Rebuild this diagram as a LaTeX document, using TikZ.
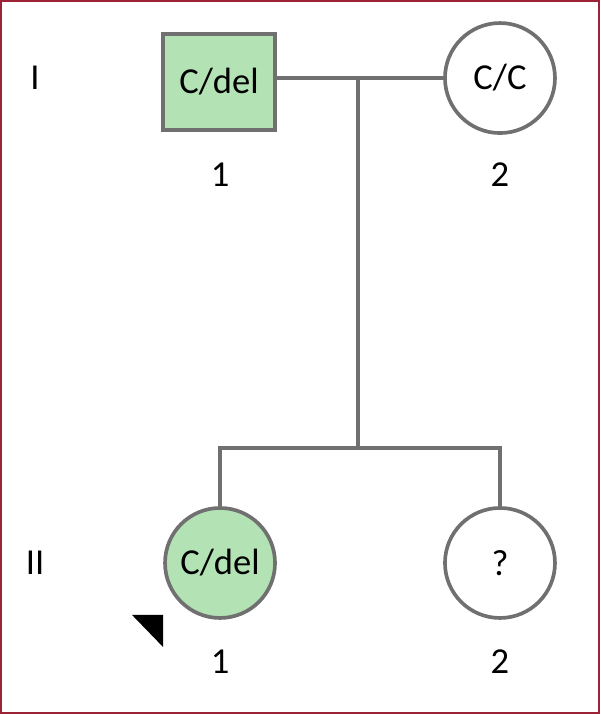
\documentclass[tikz,border=0pt]{standalone}
\usepackage{fontspec}
\setmainfont{Carlito}
\definecolor{frame}{HTML}{9B2335}
\definecolor{pedline}{HTML}{707070}
\definecolor{affected}{HTML}{B3E2B5}
\begin{document}
\begin{tikzpicture}[x=0.025cm,y=-0.025cm,
        person/.style={draw=pedline,line width=2.6pt,font=\fontsize{26}{30}\selectfont,inner sep=0pt},
        male/.style={person,rectangle,minimum width=2.8cm,minimum height=2.4cm},
        female/.style={person,circle,minimum size=2.75cm},
        ped/.style={draw=pedline,line width=2.6pt},
        lbl/.style={font=\fontsize{26}{30}\selectfont}]
    \draw[frame,line width=1.5pt] (1,1) rectangle (599,713);

    \node[male,fill=affected] (i1) at (219,82) {C/del};
    \node[female] (i2) at (500,78) {C/C};
    \node[female,fill=affected] (ii1) at (220,563) {C/del};
    \node[female] (ii2) at (500,563) {?};

    \node[lbl] (genI) at (35,78) {I};
    \node[lbl] (genII) at (35,563) {II};
    \node[lbl] (n11) at (220,175) {1};
    \node[lbl] (n12) at (500,175) {2};
    \node[lbl] (n21) at (220,662) {1};
    \node[lbl] (n22) at (500,662) {2};

    \draw[ped] (i1.east |- 0,78) -- (i2.west);
    \coordinate (mate) at (358,78);
    \coordinate (sib) at (358,448);
    \draw[ped] (mate) -- (sib);
    \draw[ped] (ii1.north) -- (ii1.north |- sib) -- (ii2.north |- sib) -- (ii2.north);

    \fill (132,615) -- (163,615) -- (163,647) -- cycle;
\end{tikzpicture}
\end{document}
